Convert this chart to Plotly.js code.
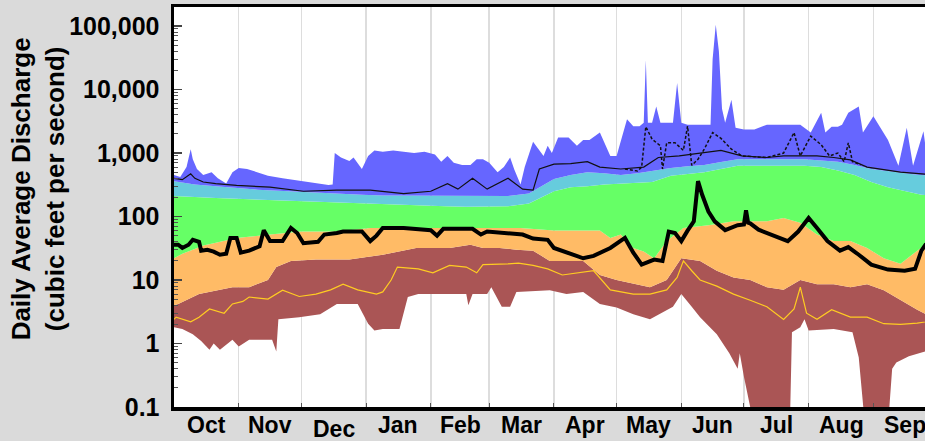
<!DOCTYPE html>
<html><head><meta charset="utf-8">
<script src="https://cdn.plot.ly/plotly-3.0.1.min.js"></script>
<style>html,body{margin:0;padding:0;background:#dadada;overflow:hidden;width:925px;height:441px}</style>
</head><body><div id="chart"></div>
<script>
// Day of water year (0 = Oct 1) and daily discharge (cfs)
const maxDay = [0,3,6,8,9,11,14,18,21,25,28,31,35,40,45,52,60,68,74,76,77,80,84,86,88,90,93,96,100,105,110,115,120,125,128,131,134,138,142,145,148,151,155,158,161,163,166,168,172,175,177,179,181,184,189,193,196,199,204,209,212,217,220,223,225,226,227,229,231,233,236,239,241,243,246,250,254,257,258,259.5,261,262.5,264,267,269,273,278,284,290,296,300,305,310,312,315,318,320,323,328,330,335,342,347,351,354,359,361,365];
const maxQ = [450,420,600,1150,800,560,450,500,400,330,500,580,560,500,440,400,370,340,315,320,1000,850,750,850,700,560,900,1100,1050,1100,1050,1000,1050,950,730,900,700,650,650,800,800,700,500,600,850,550,320,600,1500,1100,900,1300,1000,1750,1750,1300,1600,1600,2100,900,900,3400,2650,2650,3000,29000,3000,3000,5400,3000,3000,3000,12700,3000,2800,2800,2800,2800,30000,105000,40000,5000,3000,6900,2500,2350,2350,2800,2800,2800,2800,2100,4300,2100,2600,2600,2800,4300,5400,2100,3800,1600,630,2500,630,2200,700,650];

const p90Day = [0,10,20,30,40,50,60,70,80,90,100,110,120,130,140,150,160,170,176,182,190,198,206,214,222,230,238,246,254,262,270,286,302,318,326,334,345,355,365];
const p90Q = [360,320,300,280,265,255,245,235,225,220,215,215,215,215,210,210,210,230,300,390,450,500,480,450,480,530,580,620,650,720,800,800,800,730,650,560,500,460,430];

const p75Day = [0,10,20,30,40,50,60,70,80,90,100,110,120,130,140,150,160,170,176,182,190,198,206,214,222,229,238,246,254,262,270,286,302,310,318,326,334,342,350,358,365];
const p75Q = [210,200,195,190,185,180,175,170,165,160,155,150,147,145,143,143,145,160,200,250,290,300,320,330,345,350,440,470,500,560,630,630,630,600,530,450,350,290,250,220,210];

const p25Day = [0,4,9,14,19,30,46,61,78,94,110,124,140,156,166,182,198,204,209,214,220,225,230,236,244,256,268,284,292,300,308,316,324,332,340,348,356,360,365];
const p25Q = [22,26,30,35,38,46,52,58,58,66,66,66,66,66,66,60,60,60,46,52,32,28,22,41,66,73,84,84,95,80,52,41,41,32,22,18,29,36,38];

const p10Day = [0,2,12,28,36,45,49,56,68,84,100,116,132,142,148,156,164,172,180,188,196,204,212,228,236,243,252,260,268,276,284,292,300,308,316,324,332,340,348,356,360,365];
const p10Q = [4.0,4.2,6,7.7,7.7,10,16,20,21,21,25,32,32,36,32,32,30,29,20,20,20,12,10,7.7,10,22,20,14,11,10,7.7,7,10,8.6,8.6,7.7,8.6,6.9,4.8,3.4,2.9,2.8];

const minDay = [0,4,9,13,17,19,22,28,31,36,47,49,50,60,70,78,88,93,96,100,108,112,117,140,141,143,150,152,157,161,164,180,188,196,204,212,220,228,239,243,248,252,260,266,270,271,273,276,277,295,296,300,302,304,316,325,328,331,342,344,346,352,360,365];
const minQ = [1.8,1.7,1.4,1.1,0.8,1.0,0.8,1.15,0.9,1.15,1.15,0.75,2.4,2.6,2.9,4.2,4.2,2.05,1.6,1.7,1.7,5.4,6,6,4,6,6,7.7,3.8,3.8,6.5,6.9,6,6.5,4.2,3.7,2.9,2.4,3.8,6,3.8,2.6,1.4,0.7,0.4,0.7,0.3,0.1,0.05,0.05,1.5,1.8,2.4,1.6,1.7,1.5,0.6,0.05,0.05,0.4,0.5,0.63,0.75,0.9];

const curDay = [0,2,4,7,9,12,13,16,19,22,25,27,30,32,36,41,43,45,46,52,56,59,62,69,72,78,81,90,92,94,97,100,110,123,126,129,143,147,150,160,167,172,179,182,188,196,201,209,216,220,224,230,234,237,240,243,246,249,251,253,256,259,264,270,273,274,275,276,280,286,294,299,304,308,313,319,323,328,334,342,350,355,358,360,365];
const curQ = [36,36,32,36,43,40,29,30,28,25,26,46,46,27,29,34,61,45,41,41,66,55,38,40,52,55,58,58,50,41,50,66,66,61,50,64,64,52,58,55,52,45,43,32,27,22,24,32,46,27,17.5,21,20,58,55,41,60,84,360,220,120,84,61,73,75,125,80,78,62,52,41,58,95,66,41,29,33,25,17.5,14.6,14,15,29,36,42];

const meanDay = [0,4,8,10,14,20,30,46,62,78,94,110,123,131,136,143,150,160,167,172,175,182,190,198,204,214,225,232,242,252,262,272,284,292,300,308,316,324,332,348,365];
const meanQ = [400,380,470,400,350,330,310,290,250,260,260,230,250,330,270,400,270,400,270,260,560,670,680,730,600,560,600,850,900,1000,1100,900,850,900,900,900,850,780,600,500,450];

const dashDay = [216,222,224,226,229,233,234,236,240,244,246,248,251,254,258,262,267,272,284,292,297,300,305,310,314,318,321,323,325,329];
const dashQ = [560,520,600,2600,1650,1300,560,1450,1450,1100,2650,640,800,1150,2100,1700,1150,900,850,1000,2100,900,1850,1350,900,1000,730,1450,730,650];

const yelDay = [0,1,8,12,17,24,28,33,36,45,52,60,68,75,81,88,97,100,104,107,117,124,132,140,145,148,160,165,172,179,186,193,201,209,220,228,236,241,244,248,252,260,268,276,284,292,297,300,303,308,315,324,332,340,348,356,360,365];
const yelQ = [2.4,2.6,2.2,2.6,3.5,3.0,4.2,4.6,5.4,5.0,6.9,5.5,6.0,7.0,8.6,7.0,6.0,6.5,10,16,15,13,17,16,13,17.5,18,18.5,17,15,12,13,14,7,6,6,7,11,20,14,10,8,6,4.8,3.8,2.4,3.5,7.7,3.0,2.4,3.4,2.6,2.6,2.05,2.0,2.1,2.2,2.3];

const monthStarts = [0,31,61,92,123,151,182,212,243,273,304,335,365];
const monthMids = [15.5,46,76.5,107.5,137,166.5,197,227.5,258,288.5,319.5,350];
const monthLabels = ['Oct','Nov','Dec','Jan','Feb','Mar','Apr','May','Jun','Jul','Aug','Sep'];
const yTickVals = [0.1,1,10,100,1000,10000,100000];
const yTickText = ['0.1','1','10','100','1,000','10,000','100,000'];

const FONT = 'Liberation Sans, Arial, Helvetica, sans-serif';

function band(x, y, color, fill) {
  return {x: x, y: y, type: 'scatter', mode: 'lines', line: {width: 0, color: color},
    fill: fill ? 'tonexty' : 'none', fillcolor: color, hoverinfo: 'skip', showlegend: false};
}
function line(x, y, color, width, dash) {
  return {x: x, y: y, type: 'scatter', mode: 'lines',
    line: {color: color, width: width, dash: dash || 'solid'}, hoverinfo: 'skip', showlegend: false};
}

const traces = [
  band(minDay, minQ, '#aa5555', false),
  band(p10Day, p10Q, '#aa5555', true),
  band(p25Day, p25Q, '#ffbb66', true),
  band(p75Day, p75Q, '#66ff66', true),
  band(p90Day, p90Q, '#66ccdd', true),
  band(maxDay, maxQ, '#6666ff', true),
  line(meanDay, meanQ, '#111111', 1.2),
  line(dashDay, dashQ, '#111111', 1.5, '3px,2px'),
  line(yelDay, yelQ, '#ffcc22', 1.2),
  line(curDay, curQ, '#000000', 4)
];

const minorVals = [];
for (let e = -1; e < 5; e++) for (let m = 2; m <= 9; m++) minorVals.push(m * Math.pow(10, e));

const annotations = monthMids.map((m, i) => ({
  x: m, xref: 'x', y: 0, yref: 'paper', yanchor: 'top', xanchor: 'center',
  yshift: monthLabels[i] === 'Dec' ? -7 : -3,
  text: monthLabels[i], showarrow: false,
  font: {family: FONT, size: 23, color: '#000', weight: 'bold'}
}));
annotations.push({
  text: 'Daily Average Discharge<br>(cubic feet per second)', textangle: -90,
  xref: 'paper', x: -0.178, yref: 'paper', y: 0.545, xanchor: 'center', yanchor: 'middle',
  showarrow: false, font: {family: FONT, size: 26, color: '#000', weight: 'bold'}
});

const layout = {
  width: 960, height: 441,
  margin: {l: 174, r: 24, t: 7, b: 34, pad: 0},
  paper_bgcolor: '#dadada', plot_bgcolor: '#ffffff',
  showlegend: false,
  font: {family: FONT, color: '#000'},
  xaxis: {range: [0, 365], tickvals: monthStarts, showticklabels: false,
    ticks: 'inside', ticklen: 4, tickcolor: '#555', tickwidth: 1,
    showgrid: true, gridcolor: '#dddddd', gridwidth: 1.5,
    showline: true, mirror: true, linecolor: '#000', linewidth: 3.5, zeroline: false},
  yaxis: {type: 'log', range: [-1, 5.3], tickvals: yTickVals, ticktext: yTickText,
    ticks: 'inside', ticklen: 8, tickcolor: '#444', tickwidth: 1.2,
    tickfont: {family: FONT, size: 25, color: '#000', weight: 'bold'},
    ticklabelstandoff: 6,
    minor: {tickvals: minorVals, ticks: 'inside', ticklen: 4, tickcolor: '#555', tickwidth: 1, showgrid: false},
    showgrid: false, showline: true, mirror: true, linecolor: '#000', linewidth: 3.5, zeroline: false},
  annotations: annotations
};

Plotly.newPlot('chart', traces, layout, {staticPlot: true, displayModeBar: false});
</script>
</body></html>
